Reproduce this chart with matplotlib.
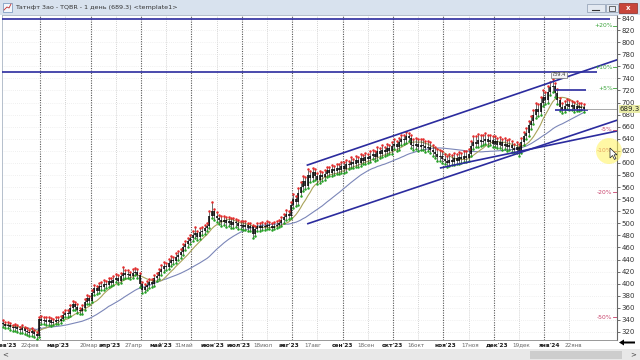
import numpy as np
import pandas as pd
import matplotlib
matplotlib.use('Agg')
import matplotlib.pyplot as plt
from matplotlib.patches import Rectangle, Ellipse, Polygon

# ---------------- data ----------------
first_open = 335
close = [333, 330, 332, 328, 326, 329, 325, 323, 326, 322, 320, 318, 321, 316, 314,
         341, 338, 340, 336, 339, 335, 337, 340, 338, 342,
         348, 352, 350, 360, 366, 362, 356, 354, 360, 370, 376, 372,
         385, 392, 388, 396, 394, 400, 398, 404, 401,
         406, 410, 405, 412, 418, 414, 416, 413, 418, 420, 415,
         400, 390, 394, 398, 402, 400, 410,
         412, 420, 425, 430, 428, 435, 440, 438, 445, 448,
         452, 460, 465, 470, 475, 480, 484, 478, 486,
         488, 492, 495, 512, 520,
         512, 508, 505, 502, 506, 500, 504, 498,
         502, 500, 496, 498, 494, 497, 492, 495, 482,
         490, 495, 493, 496, 494, 497, 495, 493, 496, 498, 500,
         505, 510, 515, 512, 530, 540, 535, 550, 560,
         570, 562, 580, 575, 585, 578, 572, 580, 576,
         582, 588, 584, 590, 586, 592, 588, 595, 590, 598,
         596, 602, 598, 605, 600, 608, 604, 610, 606, 612,
         615, 610, 620, 614, 622, 618, 625, 620,
         628, 632, 626, 635, 640, 638, 645, 642,
         630, 628, 632, 626, 630, 628, 624, 627, 622,
         618, 614, 610, 612, 606, 604,
         600, 605, 602, 608, 604, 610, 606, 612, 608, 615,
         628, 635, 632, 638, 634, 636, 640, 634, 638, 632, 636,
         630, 634, 628, 632, 626, 630, 624, 622, 626, 620,
         635, 645, 650, 662, 670, 680, 690, 685,
         700, 710, 705, 718, 725, 728, 715, 705,
         692, 688, 695, 698, 692, 696, 690, 694, 691, 693, 689.3]
high = [339, 337, 336, 335, 332, 334, 332, 329, 331, 329, 326, 324, 326, 324, 320,
        345, 347, 345, 344, 344, 343, 342, 345, 344, 347,
        353, 357, 356, 364, 372, 370, 366, 360, 365, 375, 382, 380,
        390, 398, 396, 401, 402, 406, 405, 410, 409,
        412, 416, 414, 418, 428, 422, 422, 420, 424, 426, 424,
        418, 403, 399, 404, 408, 407, 415,
        418, 425, 431, 436, 435, 441, 446, 445, 451, 454,
        458, 466, 471, 476, 481, 487, 494, 488, 492,
        494, 498, 501, 520, 535,
        524, 518, 514, 512, 512, 510, 510, 508,
        508, 507, 505, 504, 503, 503, 501, 501, 498,
        496, 501, 500, 502, 501, 503, 502, 500, 502, 504, 506,
        511, 516, 522, 520, 536, 548, 546, 558, 568,
        578, 576, 590, 586, 592, 590, 583, 586, 585,
        589, 594, 593, 597, 595, 599, 598, 602, 601, 605,
        604, 609, 607, 612, 610, 615, 613, 617, 615, 619,
        622, 620, 627, 624, 629, 627, 632, 630,
        635, 639, 636, 642, 647, 646, 651, 650,
        646, 640, 641, 639, 640, 639, 636, 636, 634,
        630, 627, 623, 621, 619, 615,
        612, 614, 613, 616, 615, 618, 617, 620, 619, 623,
        636, 645, 644, 648, 646, 646, 649, 646, 647, 644, 645,
        642, 643, 640, 641, 638, 639, 636, 632, 634, 631,
        641, 652, 658, 670, 678, 688, 699, 697,
        709, 720, 718, 727, 734, 739.4, 733, 722,
        708, 699, 702, 706, 704, 703, 701, 702, 700, 699, 697]
low = [329, 326, 327, 324, 321, 322, 320, 318, 319, 317, 315, 313, 314, 311, 309,
       312, 333, 334, 331, 332, 330, 331, 333, 333, 335,
       339, 344, 345, 347, 356, 357, 351, 349, 350, 356, 366, 367,
       369, 381, 383, 384, 389, 390, 393, 394, 396,
       397, 402, 400, 401, 408, 409, 410, 408, 409, 414, 410,
       395, 384, 386, 389, 393, 395, 396,
       405, 408, 415, 420, 423, 424, 430, 433, 434, 440,
       443, 448, 455, 460, 465, 470, 475, 472, 474,
       481, 483, 487, 492, 508,
       506, 502, 499, 496, 497, 494, 495, 492,
       493, 494, 490, 491, 489, 489, 487, 488, 476,
       479, 487, 488, 489, 489, 490, 490, 489, 490, 492, 494,
       496, 501, 506, 507, 509, 526, 529, 531, 545,
       554, 556, 558, 569, 570, 572, 565, 567, 570,
       571, 577, 578, 579, 580, 581, 582, 583, 584, 585,
       590, 591, 592, 593, 594, 595, 598, 599, 600, 601,
       607, 604, 605, 608, 609, 612, 613, 614,
       615, 623, 620, 621, 630, 632, 633, 636,
       624, 622, 623, 620, 621, 622, 618, 619, 616,
       612, 608, 604, 604, 600, 598,
       594, 595, 596, 597, 598, 599, 600, 601, 602, 603,
       611, 623, 626, 627, 628, 629, 631, 628, 629, 626, 627,
       624, 625, 622, 623, 620, 621, 618, 616, 617, 612,
       616, 630, 640, 645, 656, 664, 674, 678,
       680, 694, 698, 700, 712, 718, 709, 698,
       686, 682, 684, 689, 687, 688, 685, 686, 686, 687, 684]

price_ticks = list(range(320, 841, 20))
x_labels = ["фев'23", "22фев", "мар'23", "20мар", "апр'23", "27апр", "май'23", "31май",
            "июн'23", "июл'23", "18июл", "авг'23", "17авг", "сен'23", "18сен", "окт'23",
            "16окт", "ноя'23", "17ноя", "дек'23", "19дек", "янв'24", "22янв"]
x_label_bar = [0.8, 11.2, 22.9, 35.8, 44.6, 54.2, 65.8, 75.4, 87.1, 98.3, 108.3, 119.2,
               129.2, 141.3, 151.2, 162.1, 172.1, 184.2, 194.6, 205.8, 215.8, 227.9, 237.5]
pct_levels = [20, 10, 5, -5, -10, -20, -50]
# trend lines: (bar0, price0, bar1, price1)
trend_lines = [(-0.4, 838, 252.9, 838),
               (-0.4, 750.5, 247.5, 750.5),
               (230, 721, 243, 721),
               (126.5, 596, 256, 771),
               (126.7, 499, 256, 671),
               (182, 591.5, 256, 653),
               (230, 687.5, 243.7, 687.5)]
peak_label = "739.4"
title = "Татнфт 3ао - TQBR - 1 день (689.3) <template1>"

# ---------------- figure ----------------
W, H = 640, 360
fig = plt.figure(figsize=(6.4, 3.6), dpi=100)
fig.patch.set_facecolor('white')

def fx(x): return x / W
def fy(y): return 1 - y / H

def frect(x0, y0, x1, y1, **kw):
    r = Rectangle((fx(x0), fy(y1)), fx(x1) - fx(x0), fy(y0) - fy(y1),
                  transform=fig.transFigure, **kw)
    fig.add_artist(r)
    return r

# title bar
frect(0, 0, 640, 15, facecolor='#d8e2ee', edgecolor='none', zorder=1)
frect(3, 3, 12, 12, facecolor='#f4f7fb', edgecolor='#6d8fb8', lw=0.5, zorder=2)
fig.add_artist(plt.Line2D([fx(4), fx(7), fx(9), fx(11)], [fy(10), fy(7), fy(8), fy(4)],
                          transform=fig.transFigure, color='#c03030', lw=0.6, zorder=3))
fig.text(fx(15), fy(7.5), title, fontsize=4.6, color='#333', va='center', ha='left',
         family=['DejaVu Sans'])
frect(587, 4, 605, 12, facecolor='#e3e9f1', edgecolor='#8c9bb0', lw=0.5, zorder=2)
frect(606, 4, 618, 12, facecolor='#e3e9f1', edgecolor='#8c9bb0', lw=0.5, zorder=2)
frect(619, 3, 637, 13, facecolor='#c8453b', edgecolor='#8a2a25', lw=0.5, zorder=2)
fig.add_artist(plt.Line2D([fx(592), fx(599)], [fy(10), fy(10)], transform=fig.transFigure,
                          color='#333', lw=0.8, zorder=3))
frect(609, 6, 615, 10.5, facecolor='none', edgecolor='#333', lw=0.5, zorder=3)
fig.text(fx(628), fy(8), 'x', fontsize=5, color='white', ha='center', va='center',
         fontweight='bold')

# bottom scrollbar
frect(0, 349, 640, 360, facecolor='#e8e8e8', edgecolor='none', zorder=1)
frect(530, 350.5, 622, 358.5, facecolor='#cdcdcd', edgecolor='none', zorder=2)
fig.text(fx(5), fy(354.5), '<', fontsize=5, color='#444', ha='center', va='center')
fig.text(fx(633), fy(354.5), '>', fontsize=5, color='#444', ha='center', va='center')
arrow = Polygon([(fx(619), fy(342.5)), (fx(624), fy(339.5)), (fx(624), fy(341.5)),
                 (fx(635), fy(341.5)), (fx(635), fy(343.5)), (fx(624), fy(343.5)),
                 (fx(624), fy(345.5))], closed=True, transform=fig.transFigure,
                facecolor='black', edgecolor='none', zorder=3)
fig.add_artist(arrow)

# main axes
ax = fig.add_axes([fx(2), fy(340), fx(617) - fx(2), fy(15) - fy(340)])
ax.set_facecolor('white')
n = len(close)
idx = np.arange(n)
c = np.array(close, dtype=float)
o = np.r_[first_open, c[:-1]]
hi = np.maximum(np.array(high, dtype=float), np.maximum(o, c))
lo = np.minimum(np.array(low, dtype=float), np.minimum(o, c))

ax.set_xlim(-0.4, 255.8)
ax.set_ylim(306.7, 845)

# grid
xt = ax.get_xaxis_transform()
major_grid = 15.5 + 21 * np.arange(11)
minor_grid = 26 + 21 * np.arange(11)
ax.vlines(minor_grid, 0, 1, transform=xt, colors='#c4c4c4', lw=0.6,
          linestyles=(0, (1, 1.5)), zorder=0)
ax.vlines(major_grid, 0, 1, transform=xt, colors='#555555', lw=0.8,
          linestyles=(0, (1, 1.2)), zorder=0)
ax.hlines(price_ticks, -0.4, 255.8, colors='#e2e2e2', lw=0.5,
          linestyles=(0, (1, 2)), zorder=0)

# moving averages
ma_fast = pd.Series(c).rolling(10, min_periods=1).mean()
ma_slow = pd.Series(c).rolling(30, min_periods=1).mean()
ax.plot(idx, ma_slow, color='#7b86b8', lw=0.8, zorder=2)
ax.plot(idx, ma_fast, color='#a9a35a', lw=0.8, zorder=2)

# candles
ax.vlines(idx, lo, hi, colors='#333333', lw=0.5, zorder=3)
ax.vlines(idx, np.minimum(o, c), np.maximum(o, c), colors='#000000', lw=1.1, zorder=3)
ax.scatter(idx, hi, s=3.2, color='#e32b2b', lw=0, zorder=4)
ax.scatter(idx, lo, s=3.2, color='#25a025', lw=0, zorder=4)

# trend lines
for (b0, p0, b1, p1) in trend_lines:
    ax.plot([b0, b1], [p0, p1], color='#2b2b9e', lw=1.2, zorder=5, solid_capstyle='butt')

# last price line and label
last = c[-1]
ax.plot([idx[-1] + 0.5, 255.8], [last, last], color='#9a9a9a', lw=0.6, zorder=5)
yt = ax.get_yaxis_transform()
ax.text(1.004, last, f'{last:.1f}', transform=yt, fontsize=5, color='#222', ha='left',
        va='center', bbox=dict(boxstyle='square,pad=0.12', facecolor='#e9eca6',
                               edgecolor='none'), zorder=10, clip_on=False)

# peak label
ax.text(231.5, 746, peak_label, fontsize=3.6, color='#333', ha='center', va='center',
        bbox=dict(boxstyle='square,pad=0.15', facecolor='#f4f4f4', edgecolor='#777', lw=0.5),
        zorder=6)

# percent levels
for pct in pct_levels:
    lvl = last * (1 + pct / 100)
    col = '#3aa33a' if pct > 0 else '#c8406a'
    ax.text(0.993, lvl, f'{pct:+d}%', transform=yt, fontsize=4.3, color=col,
            ha='right', va='center', zorder=6)
    ax.plot([0.994, 1.0], [lvl, lvl], transform=yt, color=col, lw=0.6, zorder=6)

# axes styling
ax.yaxis.tick_right()
ax.set_yticks(price_ticks)
ax.set_yticklabels([str(t) for t in price_ticks])
ax.tick_params(axis='y', labelsize=5, colors='#333', length=2, width=0.5, pad=1.5)
ax.set_xticks([])
for s in ['top', 'left']:
    ax.spines[s].set_color('#a8b4c4')
    ax.spines[s].set_linewidth(0.6)
ax.spines['bottom'].set_color('#888888')
ax.spines['bottom'].set_linewidth(0.6)
ax.spines['right'].set_color('#666666')
ax.spines['right'].set_linewidth(0.8)

# x labels
for lab, pos in zip(x_labels, x_label_bar):
    is_month = "'" in lab
    ax.text(pos, -0.016, lab, transform=xt, ha='center', va='center',
            fontsize=4.2 if is_month else 4.1,
            color='#1a1a1a' if is_month else '#666666',
            fontweight='bold' if is_month else 'normal', clip_on=False)

# cursor highlight
fig.add_artist(Ellipse((fx(609), fy(151)), 26 / W, 26 / H, transform=fig.transFigure,
                       facecolor='#fff35c', edgecolor='none', alpha=0.55, zorder=8))
cursor = Polygon([(fx(610), fy(148)), (fx(610), fy(158)), (fx(612.5), fy(155.5)),
                  (fx(614.5), fy(159.5)), (fx(616), fy(158.5)), (fx(614), fy(154.8)),
                  (fx(617), fy(154.8))], closed=True, transform=fig.transFigure,
                 facecolor='white', edgecolor='#222', lw=0.5, zorder=9)
fig.add_artist(cursor)

fig.savefig('out.png', dpi=100, facecolor=fig.get_facecolor())
